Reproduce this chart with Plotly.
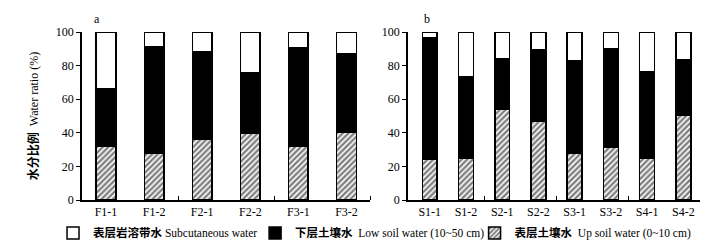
import plotly.graph_objects as go

# ---- data ----
cats_a = ["F1-1", "F1-2", "F2-1", "F2-2", "F3-1", "F3-2"]
up_a = [32, 28, 36, 40, 32, 40.5]
low_a = [34.3, 63.5, 52, 36, 58.7, 46.5]
sub_a = [33.7, 8.5, 12, 24, 9.3, 13]

cats_b = ["S1-1", "S1-2", "S2-1", "S2-2", "S3-1", "S3-2", "S4-1", "S4-2"]
up_b = [24, 25, 54, 47, 28, 31.5, 24.6, 50.5]
low_b = [72.4, 48.5, 30.2, 42.7, 54.6, 58.8, 51.8, 32.9]
sub_b = [3.6, 26.5, 15.8, 10.3, 17.4, 9.7, 23.6, 16.6]

y_ticks = [0, 20, 40, 60, 80, 100]

name_sub = "<b>表层岩溶带水</b> Subcutaneous water"
name_low = "<b>下层土壤水</b>  Low soil water (10~50 cm)"
name_up = "<b>表层土壤水</b>  Up soil water (0~10 cm)"

SERIF = "Liberation Serif, Noto Sans CJK SC"

fig = go.Figure()

def add_panel(cats, up, low, sub, xa, ya, show):
    xs = list(range(len(cats)))
    fig.add_trace(go.Bar(x=xs, y=up, name=name_up, xaxis=xa, yaxis=ya, width=0.41,
                         marker=dict(color="white", line=dict(color="black", width=1.5),
                                     pattern=dict(shape="/", fgcolor="black", bgcolor="white",
                                                  size=4, solidity=0.6)),
                         showlegend=show, legend="legend3"))
    fig.add_trace(go.Bar(x=xs, y=low, name=name_low, xaxis=xa, yaxis=ya, width=0.41,
                         marker=dict(color="black", line=dict(color="black", width=1.5)),
                         showlegend=show, legend="legend2"))
    fig.add_trace(go.Bar(x=xs, y=sub, name=name_sub, xaxis=xa, yaxis=ya, width=0.41,
                         marker=dict(color="white", line=dict(color="black", width=1.5)),
                         showlegend=show, legend="legend"))

add_panel(cats_a, up_a, low_a, sub_a, "x", "y", True)
add_panel(cats_b, up_b, low_b, sub_b, "x2", "y2", False)

def xaxis_cfg(cats, dom, rng):
    # tick marks between every pair of sites
    bounds = [i + 1.5 for i in range(0, len(cats), 2)]
    return dict(domain=dom, range=rng, tickmode="array", automargin=False,
                tickvals=list(range(len(cats))), ticktext=cats,
                ticks="", showline=True, linecolor="black", linewidth=1.5,
                showgrid=False, zeroline=False,
                tickfont=dict(family=SERIF, size=12, color="black"),
                minor=dict(tickmode="array", tickvals=bounds, ticks="inside", ticklen=4,
                           tickcolor="black", tickwidth=1, showgrid=False))

def yaxis_cfg(anchor):
    return dict(anchor=anchor, range=[0, 100], tickvals=y_ticks, automargin=False,
                ticks="outside", ticklen=4, tickcolor="black", tickwidth=1,
                showline=True, linecolor="black", linewidth=1.5,
                showgrid=False, zeroline=False,
                tickfont=dict(family=SERIF, size=12, color="black"))

def legend_cfg(x):
    return dict(orientation="h", x=x, xanchor="left", y=-0.196, yanchor="middle",
                font=dict(family=SERIF, size=11.5, color="black"),
                itemwidth=30, bgcolor="rgba(0,0,0,0)", borderwidth=0)

fig.update_layout(
    width=708, height=243,
    margin=dict(l=0, r=0, t=24, b=51, autoexpand=False),
    paper_bgcolor="white", plot_bgcolor="white",
    barmode="stack",
    font=dict(family=SERIF, size=12, color="black"),
    xaxis=xaxis_cfg(cats_a, [0.1045, 0.512], [-0.5, 5.5]),
    yaxis=yaxis_cfg("x"),
    xaxis2=xaxis_cfg(cats_b, [0.565, 0.982], [-0.6, 7.55]),
    yaxis2=yaxis_cfg("x2"),
    legend=legend_cfg(0.0636),
    legend2=legend_cfg(0.349),
    legend3=legend_cfg(0.659),
    showlegend=True,
)
fig.update_layout(yaxis_title=dict(text="<b>水分比例</b>  Water ratio (%)",
                                   font=dict(family=SERIF, size=12, color="black")))

fig.add_annotation(text="a", x=0.1187, y=1.0, xref="paper", yref="paper",
                   xanchor="left", yanchor="bottom", showarrow=False, yshift=4,
                   font=dict(family=SERIF, size=12, color="black"))
fig.add_annotation(text="b", x=0.585, y=1.0, xref="paper", yref="paper",
                   xanchor="left", yanchor="bottom", showarrow=False, yshift=4,
                   font=dict(family=SERIF, size=12, color="black"))

fig.write_html("out.html")
